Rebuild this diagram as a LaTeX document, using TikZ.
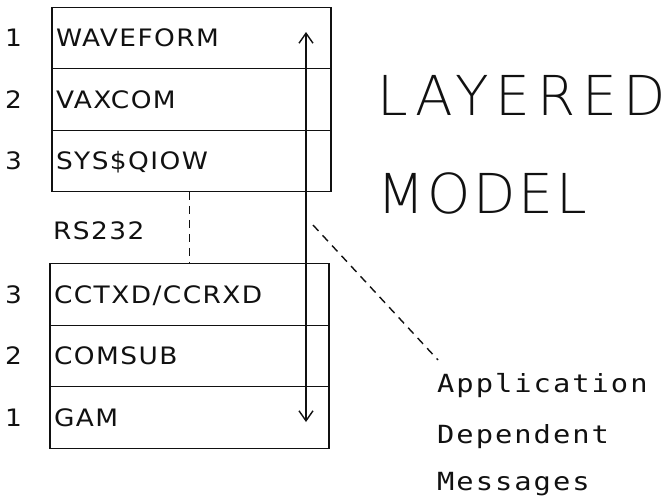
\documentclass[tikz,border=0pt]{standalone}
\usepackage{fontspec}
\usepackage{xcolor}
\usepackage{tikz}
\usetikzlibrary{positioning, arrows.meta, calc}
\definecolor{ink}{HTML}{111111}
\newfontfamily\plotfont[FakeStretch=1.1, LetterSpace=6]{DejaVu Sans}
\newfontfamily\typefont[FakeStretch=1.15, LetterSpace=8]{DejaVu Sans Mono}
\IfFontExistsTF{DejaVu Sans ExtraLight}
  {\newfontfamily\titlefont[LetterSpace=5]{DejaVu Sans ExtraLight}}
  {\newfontfamily\titlefont[LetterSpace=5]{DejaVu Sans}}

\begin{document}
\begin{tikzpicture}[x=1pt, y=-1pt,
  layer/.style={draw=ink, line width=1.4pt, outer sep=0pt,
                minimum width=279pt, minimum height=61.5pt,
                inner xsep=4pt, text width=271pt, align=left,
                text height=17.5pt, text depth=0pt,
                font=\plotfont\fontsize{24}{27}\selectfont, text=ink},
  num/.style={inner sep=0pt, text height=17.5pt, text depth=0pt,
              font=\plotfont\fontsize{24}{27}\selectfont, text=ink},
  title/.style={anchor=base west, inner sep=0pt,
                font=\titlefont\fontsize{55}{60}\selectfont, text=ink},
  msg/.style={anchor=base west, inner sep=0pt,
              font=\typefont\fontsize{25}{29}\selectfont, text=ink},
  link/.style={draw=ink, line width=1.4pt, dash pattern=on 8pt off 6pt},
  flow/.style={{Straight Barb[length=10pt, width=14pt]}-{Straight Barb[length=10pt, width=14pt]},
               draw=ink, line width=1.4pt}
]
  \useasboundingbox (0,0) rectangle (667,496);

  % VAX side
  \node[layer] (wave) at (191.5,38) {WAVEFORM};
  \node[layer, below=0pt of wave] (vax) {VAXCOM};
  \node[layer, below=0pt of vax]  (sys) {SYS\$QIOW};

  % remote side
  \node[layer] (cctxd) at (189.5,294.5) {CCTXD/CCRXD};
  \node[layer, below=0pt of cctxd]  (comsub) {COMSUB};
  \node[layer, below=0pt of comsub] (gam)    {GAM};

  \node[num, left=30pt of wave] (n1) {1};
  \node[num, left=30pt of vax]  (n2) {2};
  \node[num, left=30pt of sys]  (n3) {3};
  \node[num, left=28pt of cctxd]  (m3) {3};
  \node[num, left=28pt of comsub] (m2) {2};
  \node[num, left=28pt of gam]    (m1) {1};

  \node[num, anchor=west] (rs) at (53,231) {RS232};
  \draw[link] (sys.south -| cctxd.north) -- (cctxd.north);

  \node[title] (layered) at (377,115) {\addfontfeature{LetterSpace=12}LAYERED};
  \node[title] (model)   at (377,213) {MODEL};

  \node[msg] (app) at (437,392) {Application};
  \node[msg] (dep) at (437,443) {Dependent};
  \node[msg] (mes) at (437,490) {Messages};

  \coordinate (up)   at (306,32);
  \coordinate (down) at (306,422);
  \draw[flow] (up) -- (down);

  \coordinate (lead) at (313,225);
  \coordinate (foot) at (438,360);
  \draw[link] (lead) -- (foot);
\end{tikzpicture}
\end{document}
